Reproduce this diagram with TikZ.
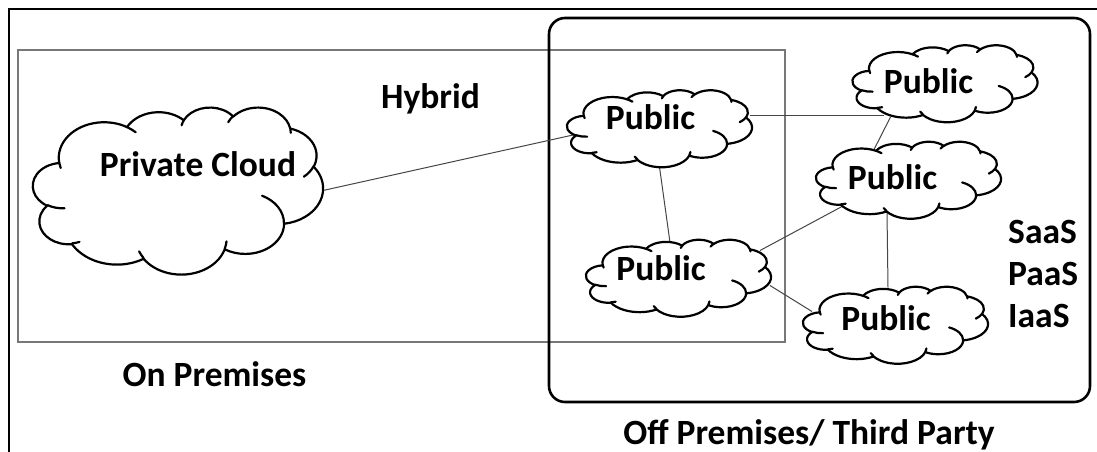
\documentclass[tikz,border=0pt]{standalone}
\usepackage{fontspec}
\setmainfont{Carlito}
\usetikzlibrary{calc}

\definecolor{boxgray}{RGB}{120,120,120}
\definecolor{linkgray}{RGB}{70,70,70}

% One arc of the cloud outline: x radius, y radius, start angle, sweep.
% The angles are seen from the ellipse centre; they are turned into
% parametric angles here.
\newcommand\oarc[4]{arc[x radius=#1, y radius=#2,
  start angle={atan2((#1)*sin(#3),(#2)*cos(#3))},
  delta angle={mod(atan2((#1)*sin((#3)+(#4)),(#2)*cos((#3)+(#4)))-atan2((#1)*sin(#3),(#2)*cos(#3))+720,360)}]}

% Cloud outline in a 43.2 x 43.2 box, with its inner folds
\newcommand\cloudpath{%
    \path[cloudline, draw, fill=white] (3.9,14.37)
      \oarc{6.753}{9.19}{-190.4875}{123.7805}
      \oarc{5.333}{7.267}{-144.1024}{89.9452}
      \oarc{4.365}{5.945}{-145.8079}{99.723}
      \oarc{4.857}{6.595}{-130.9861}{117.2417}
      \oarc{5.333}{7.273}{-78.7089}{109.0269}
      \oarc{6.775}{9.22}{-46.2673}{130.269}
      \oarc{5.785}{7.867}{0.625}{114.0333}
      \oarc{6.752}{9.215}{22.4516}{115.1726}
      \oarc{7.72}{10.543}{66.2426}{75.711}
      \oarc{4.36}{5.918}{-274.9421}{146.7356}
      \oarc{4.345}{5.945}{-246.8285}{152.5189} -- cycle;
    \path[cloudline, draw]
      (4.693,26.177) \oarc{4.345}{5.945}{86.742}{26.4295}
      (6.928,34.899) \oarc{4.36}{5.918}{73.6105}{11.4475}
      (16.478,39.09) \oarc{6.752}{9.215}{137.6242}{14.0811}
      (28.827,34.751) \oarc{6.752}{9.215}{6.4533}{15.9984}
      (34.129,22.954) \oarc{5.785}{7.867}{-70.2924}{70.9174}
      (41.798,15.354) \oarc{5.333}{7.273}{30.318}{27.7515}
      (38.324,5.426) \oarc{4.857}{6.595}{-13.7443}{14.8589}
      (29.078,3.952) \oarc{4.857}{6.595}{-149.1815}{18.1954}
      (22.141,4.72) \oarc{4.365}{5.945}{-163.4943}{17.6864}
      (14,5.192) \oarc{6.753}{9.19}{-66.707}{12.3194}
      (4.127,15.789) \oarc{6.753}{9.19}{157.6544}{11.8582};}

\tikzset{
  cloudline/.style={line width=2.2pt, line join=round, line cap=round, black},
  cloudbox/.style={inner sep=0pt, outer sep=0pt},
  frame/.style={line width=2pt, black},
  onpremframe/.style={draw=boxgray, line width=1.1pt, inner sep=0pt, outer sep=0pt},
  offpremframe/.style={draw=black, line width=2.6pt, rounded corners=16pt, inner sep=0pt, outer sep=0pt},
  link/.style={draw=linkgray, line width=1pt},
  lbl/.style={font=\fontsize{35.5}{40}\selectfont\bfseries, inner sep=0pt, text=black}
}

% cloud box: name, centre x, centre y, width, height
\newcommand\cloudat[5]{\node[cloudbox, minimum width=#4, minimum height=#5] (#1) at (#2,#3) {};}
% cloud outline drawn inside a box: name, width, height
\newcommand\drawcloud[3]{%
  \begin{scope}[shift={(#1.north west)}, xscale=#2/43.2, yscale=#3/43.2]
    \cloudpath
  \end{scope}}

\begin{document}
\begin{tikzpicture}[x=1pt, y=-1pt]
\useasboundingbox (0,0) rectangle (1097,452);
\fill[white] (0,0) rectangle (1097,452);

% frames
\draw[frame] (9,452) -- (9,9) -- (1097,9);
\node[onpremframe, minimum width=767, minimum height=292] (onprem) at (401.5,196) {};
\node[offpremframe, minimum width=541, minimum height=384] (offprem) at (819.5,210) {};

% cloud boxes
\cloudat{priv}{178}{190.5}{290}{167}
\cloudat{pub1}{659.5}{128.5}{185}{77}
\cloudat{pub2}{945}{83.5}{185}{77}
\cloudat{pub3}{908.5}{180}{185}{77}
\cloudat{pub4}{678.5}{278}{185}{77}
\cloudat{pub5}{895.5}{325}{185}{77}

% connectors
\draw[link] (priv.east) -- ($(pub1.north west)+(6,45)$);
\draw[link] ($(pub1.north west)+(183,25)$) -- ($(pub2.north west)+(31,70)$);
\draw[link] ($(pub2.north west)+(38,72)$) -- ($(pub3.north west)+(58,8)$);
\draw[link] (pub1.south) -- ($(pub4.north west)+(84,3)$);
\draw[link] ($(pub4.north west)+(174,11)$) -- ($(pub3.north west)+(26,65)$);
\draw[link] ($(pub4.north west)+(184,46)$) -- ($(pub5.north west)+(9,25)$);
\draw[link] ($(pub3.north west)+(71,71)$) -- ($(pub5.north west)+(85,1)$);

% clouds
\drawcloud{priv}{290}{167}
\drawcloud{pub1}{185}{77}
\drawcloud{pub2}{185}{77}
\drawcloud{pub3}{185}{77}
\drawcloud{pub4}{185}{77}
\drawcloud{pub5}{185}{77}

% labels
\node[lbl, anchor=base] (privtxt) at (198,176) {Private Cloud};
\node[lbl, anchor=base] (pub1txt) at (650.5,129) {Public};
\node[lbl, anchor=base] (pub2txt) at (928.5,93) {Public};
\node[lbl, anchor=base] (pub3txt) at (892.5,189) {Public};
\node[lbl, anchor=base] (pub4txt) at (661,280) {Public};
\node[lbl, anchor=base] (pub5txt) at (886,330) {Public};
\node[lbl, anchor=base] (hybrid) at (430.5,108) {Hybrid};
\node[lbl, anchor=base] (onpremtxt) at (214.5,386) {On Premises};
\node[lbl, anchor=base] (offpremtxt) at (809,444) {Off Premises/ Third Party};
\node[lbl, anchor=base west] (saas) at (1008,243) {SaaS};
\node[lbl, anchor=base west] (paas) at (1008,285) {PaaS};
\node[lbl, anchor=base west] (iaas) at (1008,327) {IaaS};
\end{tikzpicture}
\end{document}
